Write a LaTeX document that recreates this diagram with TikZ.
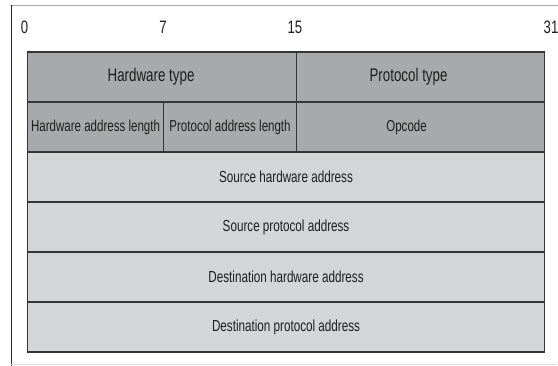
\documentclass[tikz,border=0pt]{standalone}
\usepackage{xcolor}
\usepackage{fontspec}
\setmainfont[FakeStretch=0.73]{Liberation Sans}
\usepackage{tikz}

\definecolor{darkcell}{HTML}{A8A9AC}
\definecolor{lightcell}{HTML}{D4D5D7}
\definecolor{edge}{HTML}{363636}
\definecolor{ink}{HTML}{1E1E1E}

\begin{document}
\begin{tikzpicture}[
  x=1pt, y=-1pt,
  every node/.style={text=ink, inner sep=0pt},
  cell/.style={draw=edge, line width=1.1pt, anchor=north west, minimum height=50pt},
  hdr/.style={cell, fill=darkcell},
  addr/.style={cell, fill=lightcell, minimum width=517pt, font=\fontsize{16}{19}\selectfont},
  big/.style={font=\fontsize{18.3}{21}\selectfont},
  small/.style={font=\fontsize{15.8}{19}\selectfont},
  bit/.style={font=\fontsize{18}{21}\selectfont}
]
\useasboundingbox (0,0) rectangle (558,366);

% outer frame
\draw[gray!70, line width=1.6pt] (10,5.5) -- (558,5.5);
\draw[black!85, line width=1.2pt] (11.5,5) -- (11.5,366);
\draw[gray!25, line width=1pt] (11,365) -- (557,365);

% bit positions
\node[bit] (b0) at (24.5,27) {0};
\node[bit] (b7) at (163,27) {7};
\node[bit] (b15) at (295,27) {15};
\node[bit] (b31) at (551,27) {31};

% first two rows
\node[hdr, minimum width=269pt] (hwtype) at (27,51.5) {};
\node[hdr, minimum width=248pt] (ptype) at (296,51.5) {};
\node[hdr, small, minimum width=136pt] (hwlen) at (27,101.5) {Hardware address length};
\node[hdr, small, minimum width=133pt] (plen) at (163,101.5) {Protocol address length};
\node[hdr, minimum width=248pt] (opcode) at (296,101.5) {};
\node[big] (hwtypetxt) at ([xshift=-11pt]hwtype.center) {Hardware type};
\node[big] (ptypetxt) at ([xshift=-12pt]ptype.center) {Protocol type};
\node[small] (opcodetxt) at ([xshift=-14pt]opcode.center) {Opcode};

% addresses
\node[addr] (srchw) at (27,151.5) {Source hardware address};
\node[addr] (srcpa) at (27,201.5) {Source protocol address};
\node[addr] (dsthw) at (27,251.5) {Destination hardware address};
\node[addr] (dstpa) at (27,301.5) {Destination protocol address};
\end{tikzpicture}
\end{document}
